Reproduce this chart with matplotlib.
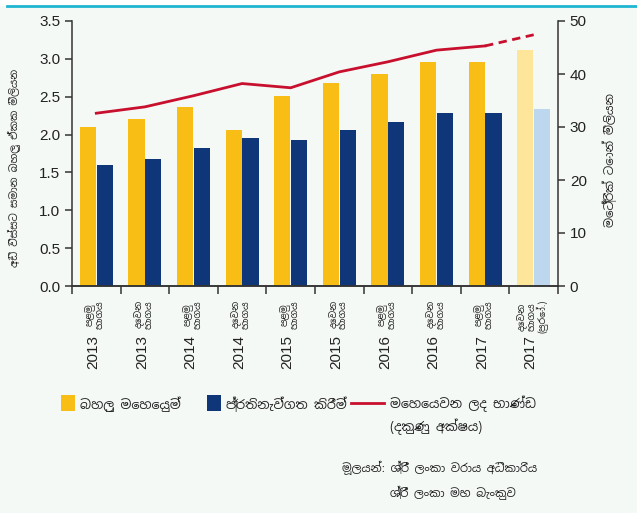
import matplotlib
matplotlib.use("Agg")
import matplotlib.pyplot as plt
import numpy as np
from matplotlib.patches import Rectangle
from matplotlib.lines import Line2D

# data
years = ["2013", "2013", "2014", "2014", "2015", "2015", "2016", "2016", "2017", "2017"]
halves = ["පළමු\nභාගය", "දෙවන\nභාගය", "පළමු\nභාගය", "දෙවන\nභාගය", "පළමු\nභාගය",
          "දෙවන\nභාගය", "පළමු\nභාගය", "දෙවන\nභාගය", "පළමු\nභාගය", "දෙවන\nභාගය\n(පුරෝ.)"]
bulk = [2.10, 2.21, 2.36, 2.06, 2.51, 2.68, 2.80, 2.96, 2.96, 3.12]
transship = [1.60, 1.68, 1.82, 1.96, 1.93, 2.06, 2.17, 2.29, 2.29, 2.34]
cargo = [32.6, 33.8, 35.9, 38.2, 37.4, 40.4, 42.3, 44.5, 45.3, 47.4]

yellow = "#f8be16"
blue = "#10367a"
yellow_l = "#fde69a"
blue_l = "#bdd7ee"
red = "#c8102e"
bg = "#f5f9f6"
txt = "#222222"

fam = ["Noto Sans Sinhala", "Iskoola Pota", "Liberation Sans Narrow", "DejaVu Sans"]
num_fam = ["Liberation Sans Narrow", "Liberation Sans", "DejaVu Sans"]

fig = plt.figure(figsize=(6.37, 5.13), dpi=100, facecolor=bg)
fig.patches.append(Rectangle((0, 1 - 6 / 513), 1, 6 / 513, transform=fig.transFigure,
                             facecolor="white", edgecolor="none", zorder=0))
fig.lines.append(Line2D([7 / 637, 1], [1 - 6 / 513] * 2, transform=fig.transFigure,
                        color="#1fb6d2", lw=2))

ax = fig.add_axes([72 / 637, 1 - 286 / 513, 486 / 637, 265 / 513])
ax.set_facecolor(bg)
ax2 = ax.twinx()

n = len(years)
x = np.arange(n) + 0.5
w = 0.335
ycols = [yellow] * (n - 1) + [yellow_l]
bcols = [blue] * (n - 1) + [blue_l]
ax.bar(x - w / 2 - 0.005, bulk, w, color=ycols, zorder=2)
ax.bar(x + w / 2 + 0.005, transship, w, color=bcols, zorder=2)

ax2.plot(x[:-1], cargo[:-1], color=red, lw=2, zorder=3)
ax2.plot(x[-2:], cargo[-2:], color=red, lw=2, ls=(0, (3, 2)), zorder=3)

ax.set_xlim(0, n)
ax.set_ylim(0, 3.5)
ax2.set_ylim(0, 50)
ax.set_yticks(np.arange(0, 3.51, 0.5))
ax.set_yticklabels([f"{v:.1f}" for v in np.arange(0, 3.51, 0.5)])
ax2.set_yticks(range(0, 51, 10))
ax.set_xticks(range(0, n + 1))
ax.set_xticklabels([])

for a in (ax, ax2):
    a.spines["top"].set_visible(False)
    for s in a.spines.values():
        s.set_color("#333333")
        s.set_linewidth(1.1)
    a.tick_params(axis="both", direction="out", length=5, width=1.1, colors="#333333",
                  labelsize=11, labelcolor=txt)
    for lab in a.get_yticklabels():
        lab.set_family(num_fam)
ax.tick_params(axis="x", length=6)
ax2.spines["left"].set_visible(False)
ax.spines["right"].set_visible(False)

# x category labels: half-year text and year below it
for xi, h, yr in zip(x, halves, years):
    ax.annotate(h, (xi, 0), xytext=(-1, -14), textcoords="offset pixels", rotation=90,
                ha="center", va="top", fontsize=6.8, family=fam, color=txt,
                annotation_clip=False, linespacing=1.0)
    ax.annotate(yr, (xi, 0), xytext=(-3, -49), textcoords="offset pixels", rotation=90,
                ha="center", va="top", fontsize=11, family=num_fam, color=txt,
                annotation_clip=False)

fig.text(14 / 637, 1 - 168 / 513, "අඩි විස්සට සමාන බහලු ඒකක මිලියන", rotation=90,
         ha="center", va="center", fontsize=7.4, family=fam, color=txt)
fig.text(610 / 637, 1 - 160 / 513, "මෙට්‍රික් ටොන් මිලියන", rotation=90,
         ha="center", va="center", fontsize=8.5, family=fam, color=txt)

# legend
fig.patches.append(Rectangle((61 / 637, 1 - 411 / 513), 14 / 637, 16 / 513,
                             transform=fig.transFigure, facecolor=yellow, edgecolor="none"))
fig.text(80 / 637, 1 - 404 / 513, "බහලු මෙහෙයුම්", ha="left", va="center",
         fontsize=9.2, family=fam, color=txt)
fig.patches.append(Rectangle((207 / 637, 1 - 411 / 513), 14 / 637, 16 / 513,
                             transform=fig.transFigure, facecolor=blue, edgecolor="none"))
fig.text(226 / 637, 1 - 404 / 513, "ප්‍රතිනැව්ගත කිරීම්", ha="left", va="center",
         fontsize=9.2, family=fam, color=txt)
fig.lines.append(Line2D([351 / 637, 384 / 637], [1 - 403 / 513] * 2,
                        transform=fig.transFigure, color=red, lw=2))
fig.text(390 / 637, 1 - 404 / 513, "මෙහෙයවන ලද භාණ්ඩ", ha="left", va="center",
         fontsize=9.2, family=fam, color=txt)
fig.text(390 / 637, 1 - 427 / 513, "(දකුණු අක්ෂය)", ha="left", va="center",
         fontsize=9.2, family=fam, color=txt)

# source
fig.text(342 / 637, 1 - 468 / 513, "මූලයන්: ශ්‍රී ලංකා වරාය අධිකාරිය", ha="left",
         va="center", fontsize=8.2, family=fam, color=txt)
fig.text(390 / 637, 1 - 493 / 513, "ශ්‍රී ලංකා මහ බැංකුව", ha="left",
         va="center", fontsize=8.2, family=fam, color=txt)

fig.savefig("out.png", dpi=100, facecolor=bg)
